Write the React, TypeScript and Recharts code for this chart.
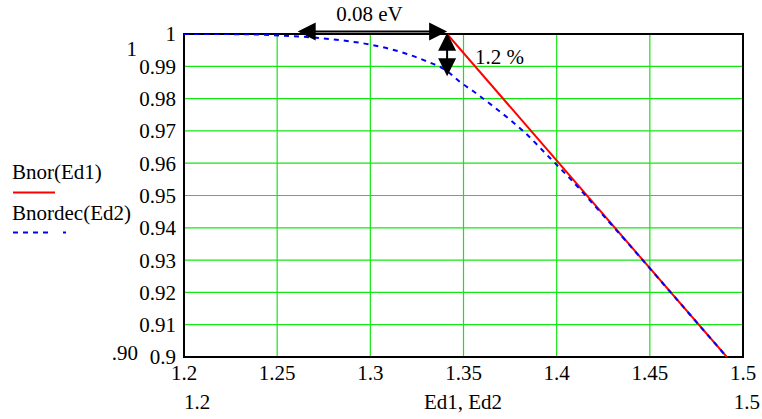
import React from 'react';
import { LineChart, Line, XAxis, YAxis, CartesianGrid, ReferenceArea, ReferenceLine } from 'recharts';

const xTicks = [1.2, 1.25, 1.3, 1.35, 1.4, 1.45, 1.5];
const xTickLabels = ['1.2', '1.25', '1.3', '1.35', '1.4', '1.45', '1.5'];
const yTicks = [0.9, 0.91, 0.92, 0.93, 0.94, 0.95, 0.96, 0.97, 0.98, 0.99, 1.0];
const yTickLabels = ['0.9', '0.91', '0.92', '0.93', '0.94', '0.95', '0.96', '0.97', '0.98', '0.99', '1'];

// Bnor(Ed1)
const ed1 = [1.3412, 1.4913];
const bnor = [1.0, 0.9];

// Bnordec(Ed2)
const ed2 = [1.2, 1.23, 1.2515, 1.2692, 1.2875, 1.2998, 1.3106, 1.3197, 1.3305, 1.3412, 1.3481, 1.3551, 1.3658, 1.375, 1.3819, 1.3964, 1.4072, 1.4233, 1.4394, 1.4608, 1.4913];
const bnordec = [1.0, 0.99995, 0.99954, 0.99892, 0.99783, 0.99675, 0.99536, 0.99381, 0.99149, 0.98854, 0.98514, 0.98235, 0.97768, 0.97344, 0.97003, 0.96161, 0.95523, 0.94495, 0.93446, 0.92025, 0.9];

// annotations
const gapEnergy = [1.261, 1.3412];
const gapLevel = 1.0008;
const gapText = '0.08 eV';
const dropEnergy = 1.3412;
const dropLevels = [1.0004, 0.9869];
const dropText = '1.2 %';

const seriesNames = ['Bnor(Ed1)', 'Bnordec(Ed2)'];
const xTitle = 'Ed1, Ed2';

const redData = ed1.map((x, i) => ({ x, y: bnor[i] }));
const blueData = ed2.map((x, i) => ({ x, y: bnordec[i] }));

const FONT = "'Liberation Serif', 'Times New Roman', serif";
const FS = 21;
const GREEN = '#14e614';

const labelFor = (arr: number[], labels: string[]) => (v: number) => {
  let best = 0;
  for (let i = 1; i < arr.length; i++) if (Math.abs(arr[i] - v) < Math.abs(arr[best] - v)) best = i;
  return labels[best];
};

const arrowShape = (vertical: boolean, text: string) => (props: any) => {
  const { x1, y1, x2, y2 } = props;
  const L = 18;
  const W = 9;
  if (!vertical) {
    const a = Math.min(x1, x2);
    const b = Math.max(x1, x2);
    const y = y1;
    return (
      <g>
        <line x1={a + L - 2} y1={y} x2={b - L + 2} y2={y} stroke="#000" strokeWidth={2} />
        <polygon points={`${a},${y} ${a + L},${y - W} ${a + L},${y + W}`} fill="#000" />
        <polygon points={`${b},${y} ${b - L},${y - W} ${b - L},${y + W}`} fill="#000" />
        <text x={(a + b) / 2 - 3} y={y - 10} textAnchor="middle" fontFamily={FONT} fontSize={FS} fill="#000">{text}</text>
      </g>
    );
  }
  const a = Math.min(y1, y2);
  const b = Math.max(y1, y2);
  const x = x1;
  return (
    <g>
      <line x1={x} y1={a + L - 2} x2={x} y2={b - L + 2} stroke="#000" strokeWidth={2} />
      <polygon points={`${x},${a} ${x - W},${a + L} ${x + W},${a + L}`} fill="#000" />
      <polygon points={`${x},${b} ${x - W},${b - L} ${x + W},${b - L}`} fill="#000" />
      <text x={x + 28} y={(a + b) / 2 + 9} textAnchor="start" fontFamily={FONT} fontSize={FS} fill="#000">{text}</text>
    </g>
  );
};

const tickStyle = { fontFamily: FONT, fontSize: FS, fill: '#000' };

export default function App() {
  return (
    <div style={{ position: 'absolute', left: 0, top: 0, width: 762, height: 419, background: '#fff' }}>
      <LineChart width={762} height={419} margin={{ top: 34, right: 19, left: 124, bottom: 32 }}>
        <CartesianGrid stroke={GREEN} strokeWidth={1.2} horizontalValues={yTicks} verticalValues={xTicks} />
        <XAxis
          type="number"
          dataKey="x"
          domain={[1.2, 1.5]}
          ticks={xTicks}
          tickFormatter={labelFor(xTicks, xTickLabels)}
          allowDataOverflow
          axisLine={false}
          tickLine={false}
          height={30}
          tick={tickStyle}
          interval={0}
        />
        <YAxis
          type="number"
          dataKey="y"
          domain={[0.9, 1.0]}
          ticks={yTicks}
          tickFormatter={labelFor(yTicks, yTickLabels)}
          allowDataOverflow
          axisLine={false}
          tickLine={false}
          width={60}
          tick={tickStyle}
          interval={0}
        />
        <ReferenceArea x1={1.2} x2={1.5} y1={0.9} y2={1.0} fill="none" stroke="#000" strokeWidth={2} ifOverflow="visible" />
        <Line data={redData} dataKey="y" type="linear" stroke="#ff0000" strokeWidth={2} dot={false} isAnimationActive={false} name={seriesNames[0]} />
        <Line data={blueData} dataKey="y" type="monotone" stroke="#0000ff" strokeWidth={2} strokeDasharray="5 5" dot={false} isAnimationActive={false} name={seriesNames[1]} />
        <ReferenceLine
          segment={[{ x: gapEnergy[0], y: gapLevel }, { x: gapEnergy[1], y: gapLevel }]}
          ifOverflow="visible"
          shape={arrowShape(false, gapText)}
        />
        <ReferenceLine
          segment={[{ x: dropEnergy, y: dropLevels[0] }, { x: dropEnergy, y: dropLevels[1] }]}
          ifOverflow="visible"
          shape={arrowShape(true, dropText)}
        />
      </LineChart>
      <svg width={762} height={419} style={{ position: 'absolute', left: 0, top: 0, pointerEvents: 'none' }}>
        <g fontFamily={FONT} fontSize={FS} fill="#000">
          <text x={12} y={179}>{seriesNames[0]}</text>
          <text x={12} y={220}>{seriesNames[1]}</text>
          <text x={137} y={56} textAnchor="end">1</text>
          <text x={138} y={360} textAnchor="end">.90</text>
          <text x={184} y={409} textAnchor="start">1.2</text>
          <text x={463} y={409} textAnchor="middle">{xTitle}</text>
          <text x={760} y={409} textAnchor="end">1.5</text>
        </g>
        <line x1={13} y1={192.5} x2={55} y2={192.5} stroke="#ff0000" strokeWidth={2} />
        <line x1={13} y1={232.5} x2={48} y2={232.5} stroke="#0000ff" strokeWidth={2} strokeDasharray="5 5" />
        <line x1={63} y1={232.5} x2={66} y2={232.5} stroke="#0000ff" strokeWidth={2} />
      </svg>
    </div>
  );
}
